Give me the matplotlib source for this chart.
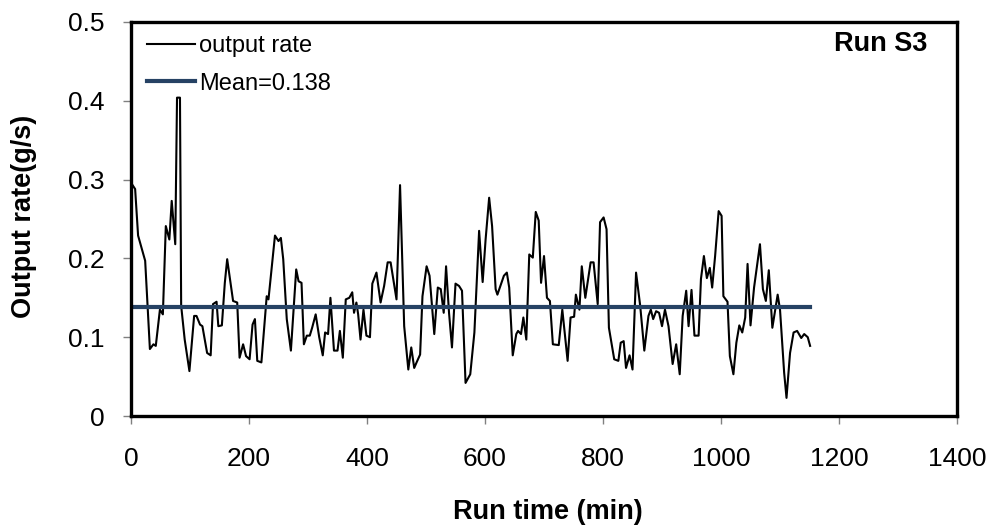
import matplotlib
matplotlib.use("Agg")
import matplotlib.pyplot as plt

plt.rcParams["font.family"] = ["Liberation Sans", "DejaVu Sans"]

# === data ===
run_time = [0, 7, 12, 24, 32, 38, 42, 49, 54, 59, 65, 69, 75, 78, 83, 85, 91, 99, 107, 111,
            117, 121, 129, 135, 139, 145, 148, 154, 159, 163, 173, 180, 184, 190, 195, 201, 206, 210, 214, 221,
            230, 233, 244, 250, 254, 258, 264, 271, 280, 284, 289, 293, 298, 303, 307, 313, 319, 325, 329, 334,
            338, 344, 350, 354, 359, 364, 370, 375, 378, 382, 385, 389, 394, 399, 405, 409, 416, 423, 429, 435,
            440, 450, 456, 463, 470, 475, 480, 484, 490, 494, 501, 506, 514, 520, 525, 530, 534, 539, 544, 550,
            556, 561, 567, 575, 582, 590, 596, 601, 607, 612, 618, 621, 627, 632, 637, 641, 647, 653, 656, 661,
            665, 670, 675, 681, 686, 691, 695, 700, 705, 710, 715, 725, 731, 740, 745, 751, 754, 760, 764, 770,
            779, 784, 791, 795, 801, 806, 810, 819, 826, 830, 835, 839, 845, 850, 856, 863, 870, 877, 881, 885,
            890, 895, 900, 905, 911, 918, 924, 930, 935, 941, 945, 950, 955, 962, 966, 971, 976, 981, 985, 990,
            996, 1001, 1004, 1011, 1015, 1021, 1026, 1031, 1036, 1041, 1045, 1050, 1056, 1066, 1071, 1076, 1081,
            1087, 1096, 1100, 1107, 1111, 1117, 1123, 1129, 1136, 1141, 1147, 1151]
output_rate = [0.296, 0.288, 0.229, 0.197, 0.085, 0.091, 0.089, 0.135, 0.129, 0.241, 0.224, 0.273, 0.218,
               0.404, 0.404, 0.140, 0.097, 0.057, 0.127, 0.127,
               0.116, 0.114, 0.080, 0.077, 0.142, 0.145, 0.114, 0.115, 0.169, 0.199, 0.146, 0.144, 0.074, 0.091,
               0.076, 0.072, 0.116, 0.123, 0.070, 0.068,
               0.152, 0.148, 0.229, 0.222, 0.226, 0.199, 0.123, 0.083, 0.186, 0.171, 0.169, 0.091, 0.102, 0.102,
               0.112, 0.129, 0.100, 0.077, 0.106, 0.104,
               0.150, 0.083, 0.083, 0.108, 0.074, 0.148, 0.150, 0.157, 0.131, 0.144, 0.129, 0.097, 0.135, 0.102,
               0.100, 0.168, 0.182, 0.144, 0.165, 0.195,
               0.195, 0.148, 0.293, 0.114, 0.059, 0.087, 0.061, 0.068, 0.078, 0.152, 0.190, 0.178, 0.104, 0.163,
               0.161, 0.131, 0.190, 0.131, 0.087, 0.168,
               0.165, 0.159, 0.042, 0.053, 0.106, 0.235, 0.170, 0.224, 0.277, 0.241, 0.161, 0.154, 0.167, 0.178,
               0.182, 0.163, 0.077, 0.104, 0.108, 0.104,
               0.125, 0.097, 0.205, 0.201, 0.259, 0.248, 0.169, 0.203, 0.150, 0.146, 0.091, 0.090, 0.135, 0.070,
               0.125, 0.126, 0.154, 0.135, 0.190, 0.150,
               0.195, 0.195, 0.142, 0.246, 0.252, 0.237, 0.112, 0.072, 0.070, 0.093, 0.095, 0.061, 0.077, 0.059,
               0.182, 0.140, 0.083, 0.127, 0.135, 0.123,
               0.133, 0.131, 0.114, 0.135, 0.114, 0.066, 0.091, 0.053, 0.127, 0.159, 0.114, 0.160, 0.102, 0.102,
               0.174, 0.203, 0.175, 0.188, 0.163, 0.203,
               0.260, 0.254, 0.152, 0.145, 0.076, 0.053, 0.093, 0.115, 0.106, 0.125, 0.193, 0.115, 0.163, 0.218,
               0.161, 0.146, 0.185,
               0.112, 0.154, 0.135, 0.055, 0.023, 0.080, 0.106, 0.108, 0.099, 0.104, 0.100, 0.089]
mean_value = 0.138
mean_span = [0, 1151]

x_ticks = [0, 200, 400, 600, 800, 1000, 1200, 1400]
y_ticks = [0, 0.1, 0.2, 0.3, 0.4, 0.5]
y_tick_labels = ["0", "0.1", "0.2", "0.3", "0.4", "0.5"]

# === figure ===
fig = plt.figure(figsize=(9.97, 5.25), dpi=100)
ax = fig.add_axes([0.1314, 0.2076, 0.8285, 0.7505])

ax.plot(run_time, output_rate, color="black", linewidth=1.5, label="output rate")
ax.plot(mean_span, [mean_value, mean_value], color="#264264", linewidth=3,
        label=f"Mean={mean_value}")

ax.set_xlim(0, 1400)
ax.set_ylim(0, 0.5)
ax.set_xticks(x_ticks)
ax.set_yticks(y_ticks)
ax.set_yticklabels(y_tick_labels)
ax.tick_params(axis="both", direction="out", length=6, width=1, color="#808080", labelsize=19)
ax.tick_params(axis="x", pad=16)
ax.tick_params(axis="y", pad=13)

for side in ["left", "right", "top", "bottom"]:
    ax.spines[side].set_linewidth(2.4)
    ax.spines[side].set_color("black")

# axis titles
ax.set_xlabel("Run time (min)", fontsize=19.5, fontweight="bold")
ax.set_ylabel("Output rate(g/s)", fontsize=19.5, fontweight="bold")
ax.xaxis.set_label_coords(0.505, -0.21)
ax.yaxis.set_label_coords(-0.114, 0.506)

ax.text(0.9637, 0.944, "Run S3", transform=ax.transAxes, ha="right", va="center",
        fontsize=19.5, fontweight="bold")

ax.legend(loc="upper left", bbox_to_anchor=(0.0085, 0.99), frameon=False, fontsize=17,
          handlelength=2.0, handletextpad=0.2, labelspacing=0.65, borderaxespad=0.0)

fig.savefig("out.png", dpi=100)
plt.close(fig)
